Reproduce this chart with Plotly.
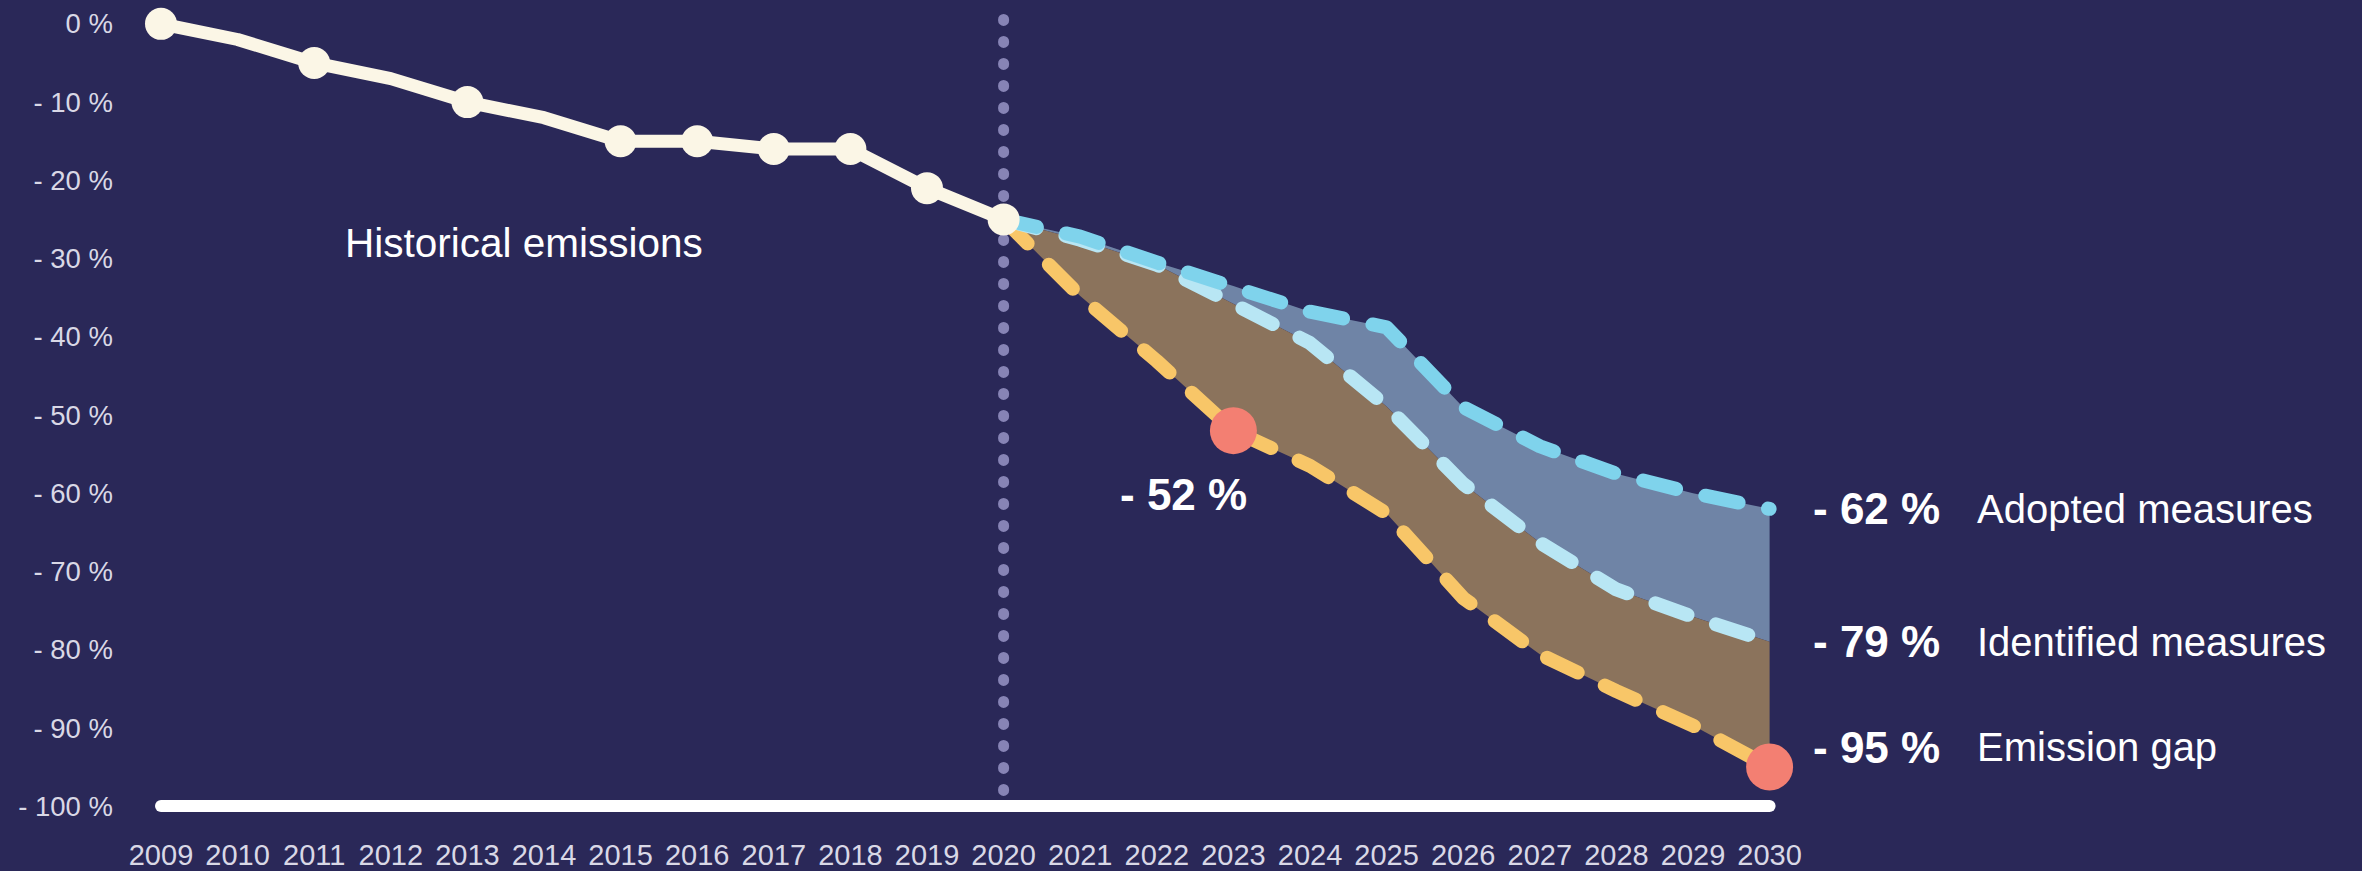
import plotly.graph_objects as go

# Historical emissions, change vs. 2009 (%)
hist_years = [2009, 2010, 2011, 2012, 2013, 2014, 2015, 2016, 2017, 2018, 2019, 2020]
hist_values = [0, -2, -5, -7, -10, -12, -15, -15, -16, -16, -21, -25]
marker_years = [2009, 2011, 2013, 2015, 2016, 2017, 2018, 2019, 2020]

# Projections 2020-2030 (%)
proj_years = [2020, 2021, 2022, 2023, 2024, 2025, 2026, 2027, 2028, 2029, 2030]
adopted = [-25, -27.2, -30.5, -33.5, -36.8, -38.8, -49, -54, -57.5, -60, -62]
identified = [-25, -27.6, -30.8, -35.8, -40.8, -48.9, -58.8, -66.3, -72.3, -75.8, -79]
gap = [-25, -34.8, -43.1, -52, -56.5, -62.6, -73.4, -80.6, -85.3, -89.7, -95]

# Highlighted points on the emission-gap path
gap_points_years = [2023, 2030]
gap_points_values = [-52, -95]

split_year = 2020
x_ticks = list(range(2009, 2031))
y_ticks = [0, -10, -20, -30, -40, -50, -60, -70, -80, -90, -100]
y_ticktext = ["0 %"] + [f"- {abs(v)} %" for v in y_ticks[1:]]

BG = "#2a2858"
CREAM = "#fbf6e6"
ADOPTED_C = "#7fd3ec"
IDENT_C = "#b8e6f4"
GAP_C = "#f8c668"
RED = "#f37f72"
FILL_BLUE = "#6f84a6"
FILL_BROWN = "#8b735c"
DOTS = "#8784b5"
FONT = "Liberation Sans, Arial, sans-serif"

fig = go.Figure()

# Shaded bands between scenarios
fig.add_trace(go.Scatter(x=proj_years, y=identified, mode="lines",
                         line=dict(width=0), hoverinfo="skip", showlegend=False))
fig.add_trace(go.Scatter(x=proj_years, y=adopted, mode="lines", fill="tonexty",
                         fillcolor=FILL_BLUE, line=dict(width=0),
                         hoverinfo="skip", showlegend=False))
fig.add_trace(go.Scatter(x=proj_years, y=gap, mode="lines",
                         line=dict(width=0), hoverinfo="skip", showlegend=False))
fig.add_trace(go.Scatter(x=proj_years, y=identified, mode="lines", fill="tonexty",
                         fillcolor=FILL_BROWN, line=dict(width=0),
                         hoverinfo="skip", showlegend=False))

# Baseline at -100 %
fig.add_trace(go.Scatter(x=[x_ticks[0], x_ticks[-1]], y=[y_ticks[-1], y_ticks[-1]],
                         mode="lines", line=dict(color="#ffffff", width=12),
                         hoverinfo="skip", showlegend=False))

# Dotted separator between history and projections
fig.add_trace(go.Scatter(x=[split_year, split_year], y=[-98, 3],
                         mode="lines", line=dict(color=DOTS, width=11, dash="1px,21px"),
                         hoverinfo="skip", showlegend=False))

# Scenario paths
dash = "34px,30px"
fig.add_trace(go.Scatter(x=proj_years, y=gap, mode="lines",
                         line=dict(color=GAP_C, width=14, dash=dash),
                         name="Emission gap", showlegend=False))
fig.add_trace(go.Scatter(x=proj_years, y=identified, mode="lines",
                         line=dict(color=IDENT_C, width=14, dash=dash),
                         name="Identified measures", showlegend=False))
fig.add_trace(go.Scatter(x=proj_years, y=adopted, mode="lines",
                         line=dict(color=ADOPTED_C, width=14, dash=dash),
                         name="Adopted measures", showlegend=False))

# Historical emissions
fig.add_trace(go.Scatter(x=hist_years, y=hist_values, mode="lines",
                         line=dict(color=CREAM, width=13),
                         name="Historical emissions", showlegend=False))
marker_vals = [hist_values[hist_years.index(y)] for y in marker_years]
fig.add_trace(go.Scatter(x=marker_years, y=marker_vals, mode="markers",
                         marker=dict(color=CREAM, size=32, line=dict(width=0)),
                         showlegend=False))

fig.add_trace(go.Scatter(x=gap_points_years, y=gap_points_values, mode="markers",
                         marker=dict(color=RED, size=47, line=dict(width=0)),
                         showlegend=False))

# Text labels
fig.add_annotation(x=2011.38, y=-28, text="Historical emissions", showarrow=False,
                   xanchor="left", yanchor="middle",
                   font=dict(family=FONT, size=40.5, color="#ffffff"))

fig.add_annotation(x=gap_points_years[0], y=gap_points_values[0],
                   text=f"<b>- {abs(gap_points_values[0])} %</b>", showarrow=False,
                   xanchor="center", yanchor="middle", xshift=-50, yshift=-64,
                   font=dict(family=FONT, size=44, color="#ffffff"))

end_labels = [
    (adopted[-1], "Adopted measures", 0),
    (identified[-1], "Identified measures", 0),
    (gap[-1], "Emission gap", 20),
]
for val, name, ys in end_labels:
    fig.add_annotation(x=proj_years[-1], y=val, text=f"<b>- {abs(val)} %</b>",
                       showarrow=False, xanchor="left", yanchor="middle",
                       xshift=41, yshift=ys,
                       font=dict(family=FONT, size=44, color="#ffffff"))
    fig.add_annotation(x=proj_years[-1], y=val, text=name,
                       showarrow=False, xanchor="left", yanchor="middle",
                       xshift=205, yshift=ys,
                       font=dict(family=FONT, size=40, color="#ffffff"))

fig.update_layout(
    width=2362, height=871,
    paper_bgcolor=BG, plot_bgcolor=BG,
    margin=dict(l=140, r=10, t=0, b=40),
    showlegend=False,
    xaxis=dict(range=[2008.726, 2037.603], tickvals=x_ticks,
               ticktext=[str(y) for y in x_ticks], showgrid=False, zeroline=False,
               showline=False, ticks="", ticklabelstandoff=8,
               tickfont=dict(family=FONT, size=29, color="#d9d8e6")),
    yaxis=dict(range=[-102.67, 3.05], tickvals=y_ticks, ticktext=y_ticktext,
               showgrid=False, zeroline=False, showline=False, ticks="",
               ticklabelstandoff=26,
               tickfont=dict(family=FONT, size=27.5, color="#d9d8e6")),
)

round_caps = ("var s=document.createElement('style');"
              "s.textContent='.js-line{stroke-linecap:round;stroke-linejoin:round}';"
              "document.head.appendChild(s);")
fig.write_html("out.html", post_script=round_caps)
